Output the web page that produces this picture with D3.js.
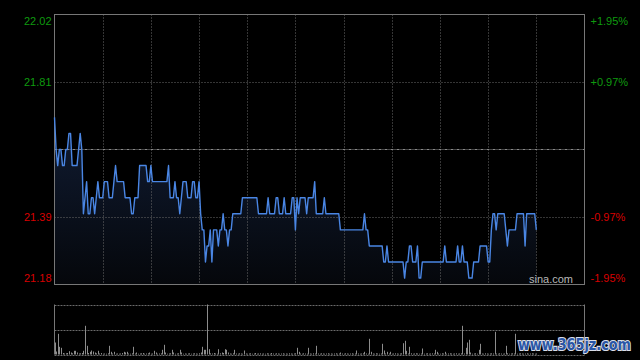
<!DOCTYPE html>
<html><head><meta charset="utf-8">
<script src="https://cdn.jsdelivr.net/npm/d3@7"></script>
<style>html,body{margin:0;padding:0;background:#000;} svg{display:block;}</style>
</head><body>
<svg id="chart" width="640" height="360"></svg>
<script>
// ---- data ----
const prevClose = 21.60;
const priceTicks = [22.02, 21.81, 21.39, 21.18];
const pctTicks = ["+1.95%", "+0.97%", "-0.97%", "-1.95%"];
const sessionMinutes = 330;
const gridMinutes = [30, 60, 90, 120, 150, 180, 210, 240, 270, 300];
const prices = [
21.70,21.60,21.55,21.60,21.60,21.55,21.55,21.60,21.60,21.65,
21.65,21.55,21.55,21.55,21.55,21.60,21.65,21.60,21.40,21.45,
21.50,21.40,21.40,21.45,21.45,21.40,21.45,21.50,21.45,21.45,
21.45,21.50,21.50,21.50,21.45,21.45,21.45,21.50,21.55,21.50,
21.50,21.50,21.50,21.50,21.45,21.45,21.45,21.45,21.40,21.40,
21.45,21.45,21.45,21.55,21.55,21.55,21.55,21.55,21.50,21.50,
21.55,21.50,21.50,21.50,21.50,21.50,21.50,21.50,21.50,21.50,
21.50,21.55,21.45,21.45,21.45,21.50,21.45,21.45,21.40,21.45,
21.50,21.50,21.50,21.45,21.45,21.45,21.50,21.50,21.45,21.45,
21.50,21.40,21.35,21.35,21.25,21.30,21.30,21.35,21.25,21.35,
21.35,21.35,21.30,21.35,21.35,21.40,21.35,21.35,21.30,21.35,
21.35,21.40,21.40,21.40,21.40,21.40,21.40,21.45,21.45,21.45,
21.45,21.45,21.45,21.45,21.45,21.45,21.45,21.40,21.40,21.40,
21.40,21.40,21.40,21.45,21.40,21.40,21.40,21.40,21.45,21.45,
21.40,21.40,21.40,21.45,21.40,21.40,21.40,21.40,21.45,21.45,
21.35,21.45,21.40,21.45,21.45,21.45,21.45,21.40,21.45,21.45,
21.45,21.45,21.50,21.40,21.40,21.40,21.40,21.40,21.45,21.40,
21.40,21.40,21.40,21.40,21.40,21.40,21.40,21.40,21.35,21.35,
21.35,21.35,21.35,21.35,21.35,21.35,21.35,21.35,21.35,21.35,
21.35,21.35,21.35,21.40,21.35,21.35,21.30,21.30,21.30,21.30,
21.30,21.30,21.30,21.30,21.30,21.25,21.25,21.30,21.25,21.25,
21.25,21.25,21.25,21.25,21.25,21.25,21.25,21.25,21.20,21.25,
21.25,21.30,21.30,21.25,21.25,21.25,21.30,21.20,21.20,21.25,
21.25,21.25,21.25,21.25,21.25,21.25,21.25,21.25,21.25,21.25,
21.25,21.25,21.25,21.30,21.25,21.25,21.25,21.25,21.25,21.25,
21.25,21.30,21.25,21.25,21.30,21.25,21.25,21.25,21.20,21.20,
21.20,21.25,21.25,21.25,21.25,21.30,21.30,21.30,21.30,21.30,
21.25,21.25,21.35,21.40,21.40,21.35,21.40,21.40,21.40,21.40,
21.40,21.35,21.30,21.35,21.35,21.35,21.35,21.35,21.40,21.40,
21.40,21.40,21.40,21.30,21.40,21.40,21.40,21.40,21.40,21.40,
21.35
];
const volumes = [
120,30,207,77,67,15,10,12,15,33,
20,12,37,37,20,10,12,15,37,287,
87,15,27,40,30,20,12,37,10,15,
8,10,8,12,87,27,10,27,8,10,
8,10,15,27,20,27,10,8,12,77,
10,20,8,10,12,15,8,10,12,20,
8,10,37,20,8,10,12,47,97,20,
8,10,12,47,20,8,10,12,47,20,
8,10,8,10,12,8,10,12,10,8,
12,20,77,47,47,500,53,12,10,15,
10,8,53,12,20,15,53,47,20,10,
8,12,47,10,8,12,10,8,40,10,
8,10,12,8,10,15,8,10,12,8,
10,8,12,10,8,15,10,8,12,10,
8,10,12,8,10,8,12,10,8,10,
12,67,27,10,8,12,10,8,67,10,
8,12,10,87,10,8,12,10,8,10,
12,8,10,8,10,12,8,10,20,10,
8,12,10,8,10,12,8,10,40,10,
8,10,12,27,10,8,157,27,10,8,
12,10,8,10,107,40,10,27,10,27,
8,10,12,10,8,10,12,113,137,37,
10,77,12,8,10,12,10,8,10,60,
8,10,12,8,10,12,10,47,27,10,
8,12,10,27,8,10,12,10,8,10,
12,8,10,12,287,10,67,120,147,20,
8,10,12,8,47,107,10,8,12,10,
8,10,12,10,227,10,8,12,10,8,
10,87,12,8,10,12,10,207,8,10,
12,10,8,10,12,8,10,12,10,8,
10
];

// ---- layout ----
const L = 54.5, R = 584.5, T = 14.5, B = 284.5;
const VT = 304.5, VB = 354.5;
const svg = d3.select("#chart");
svg.append("rect").attr("width",640).attr("height",360).attr("fill","#000");

const x = d3.scaleLinear().domain([0, sessionMinutes]).range([L, R]);
const y = d3.scaleLinear().domain([priceTicks[3], priceTicks[0]]).range([B, T]);
const vy = d3.scaleLinear().domain([0, d3.max(volumes)]).range([VB, VT]);

// gradient
const defs = svg.append("defs");
const grad = defs.append("linearGradient").attr("id","fillGrad")
  .attr("gradientUnits","userSpaceOnUse").attr("x1",0).attr("x2",0).attr("y1",110).attr("y2",B);
grad.append("stop").attr("offset","0%").attr("stop-color","#111d35");
grad.append("stop").attr("offset","100%").attr("stop-color","#05070b");

const data = prices.map((p,i)=>({m:i,p:p,v:volumes[i]}));

// area
svg.append("path").datum(data)
  .attr("d", d3.area().x(d=>x(d.m)).y0(B).y1(d=>y(d.p)))
  .attr("fill","url(#fillGrad)");

// grid
const grid = svg.append("g");
grid.selectAll("line.v").data(gridMinutes).join("line")
  .attr("x1",d=>Math.round(x(d))+0.5).attr("x2",d=>Math.round(x(d))+0.5)
  .attr("y1",T).attr("y2",B)
  .attr("stroke","#6a6a6a").attr("stroke-dasharray","1,2");
grid.selectAll("line.h").data([priceTicks[1], priceTicks[2]]).join("line")
  .attr("x1",L).attr("x2",R)
  .attr("y1",d=>Math.round(y(d))+0.5).attr("y2",d=>Math.round(y(d))+0.5)
  .attr("stroke","#6a6a6a").attr("stroke-dasharray","1,2");
svg.append("line").attr("x1",L).attr("x2",R)
  .attr("y1",Math.round(y(prevClose))+0.5).attr("y2",Math.round(y(prevClose))+0.5)
  .attr("stroke","#8a8a8a").attr("stroke-dasharray","3,1,1,1");

// frame
svg.append("rect").attr("x",L).attr("y",T).attr("width",R-L).attr("height",B-T)
  .attr("fill","none").attr("stroke","#777");

// price line
svg.append("path").datum(data)
  .attr("d", d3.line().x(d=>x(d.m)).y(d=>y(d.p)))
  .attr("fill","none").attr("stroke","#4a86e4").attr("stroke-width",1.4)
  .attr("stroke-linejoin","round");

// axes labels
const leftAxis = svg.append("g").attr("transform",`translate(${L},0)`)
  .call(d3.axisLeft(y).tickValues(priceTicks).tickSize(0).tickPadding(3).tickFormat(d3.format(".2f")));
const rightAxis = svg.append("g").attr("transform",`translate(${R},0)`)
  .call(d3.axisRight(y).tickValues(priceTicks).tickSize(0).tickPadding(6).tickFormat((d,i)=>pctTicks[i]));
[leftAxis, rightAxis].forEach(g=>{
  g.select(".domain").remove();
  g.selectAll("text")
    .attr("font-family","Liberation Sans, Arial, sans-serif").attr("font-size",11)
    .attr("fill",(d)=> d > prevClose ? "#0f9a0f" : "#d80000")
    .attr("dy",(d,i)=> i===0 ? "0.87em" : (i===priceTicks.length-1 ? "-0.25em" : "0.32em"));
});

// sina.com
svg.append("text").attr("x",573).attr("y",283).attr("text-anchor","end")
  .attr("font-family","Liberation Sans, Arial, sans-serif").attr("font-size",11)
  .attr("fill","#b8b8b8").text("sina.com");

// volume panel
const vg = svg.append("g");
[VT, (VT+VB)/2, VB].forEach(yy=>{
  vg.append("line").attr("x1",L).attr("x2",R).attr("y1",Math.round(yy)+0.5).attr("y2",Math.round(yy)+0.5)
    .attr("stroke","#6a6a6a").attr("stroke-dasharray","2,1");
});
vg.append("line").attr("x1",L).attr("x2",L).attr("y1",VT).attr("y2",VB).attr("stroke","#777");
vg.append("line").attr("x1",R).attr("x2",R).attr("y1",VT).attr("y2",VB).attr("stroke","#777");
vg.selectAll("line.bar").data(data).join("line")
  .attr("x1",d=>Math.round(x(d.m))+0.5).attr("x2",d=>Math.round(x(d.m))+0.5)
  .attr("y1",VB).attr("y2",d=>vy(d.v))
  .attr("stroke","#8c8c8c").attr("stroke-width",1);

// watermark
svg.append("text").attr("x",518).attr("y",350)
  .attr("font-family","DejaVu Sans, sans-serif").attr("font-weight","bold").attr("font-size",16)
  .attr("textLength",113).attr("lengthAdjust","spacingAndGlyphs")
  .attr("fill","#2a56a6").attr("stroke","#d8dde8").attr("stroke-width",2.2)
  .attr("paint-order","stroke").text("www.365jz.com");
</script>
</body></html>
